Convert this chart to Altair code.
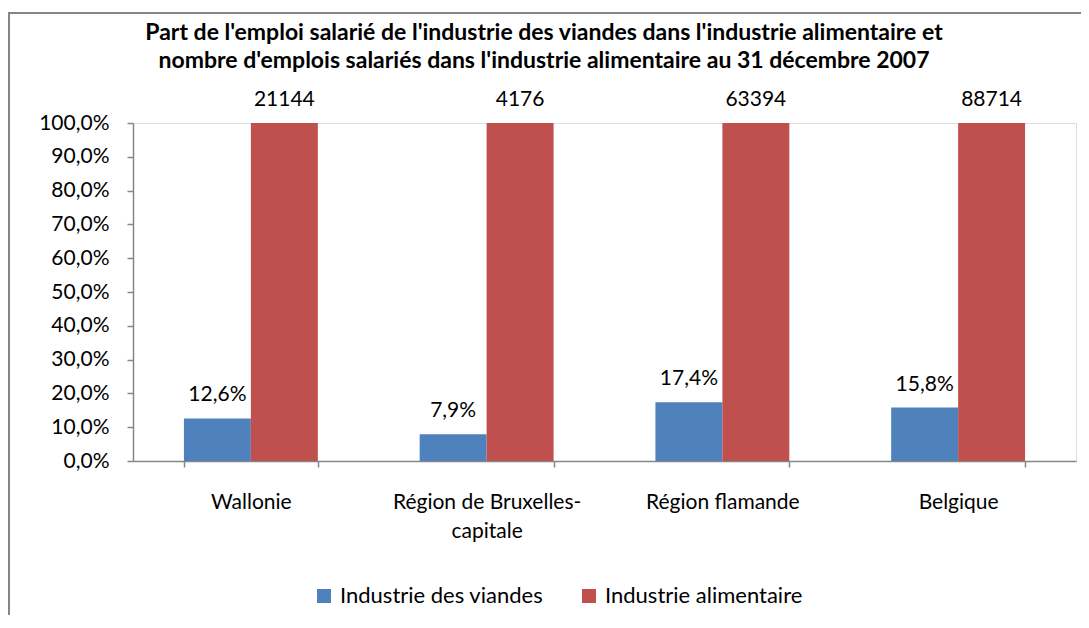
import altair as alt
import pandas as pd

categories = ["Wallonie", "Région de Bruxelles-capitale", "Région flamande", "Belgique"]
series = ["Industrie des viandes", "Industrie alimentaire"]
colors = ["#4F81BD", "#C0504D"]
viandes_share = [12.6, 7.9, 17.4, 15.8]
alimentaire_share = [100.0, 100.0, 100.0, 100.0]
alimentaire_jobs = [21144, 4176, 63394, 88714]
y_ticks = [0, 10, 20, 30, 40, 50, 60, 70, 80, 90, 100]
title_lines = [
    "Part de l'emploi salarié de l'industrie des viandes dans l'industrie alimentaire et",
    "nombre d'emplois salariés dans l'industrie alimentaire au 31 décembre 2007",
]

rows = []
for i, c in enumerate(categories):
    rows.append({"cat": c, "serie": series[0], "value": viandes_share[i],
                 "label": f"{viandes_share[i]:.1f}%".replace(".", ",")})
    rows.append({"cat": c, "serie": series[1], "value": alimentaire_share[i],
                 "label": str(alimentaire_jobs[i])})
df = pd.DataFrame(rows)
title_df = pd.DataFrame({"line": title_lines})

FONT = "Lato"
FS = 21
W, H = 943, 338
PL, PT = 125, 115
GRAY = "#868686"

x_enc = alt.X(
    "cat:N", sort=categories,
    scale=alt.Scale(paddingInner=0.432, paddingOuter=0.216),
    axis=alt.Axis(
        title=None, labelAngle=0, tickBand="extent", tickSize=6,
        labelPadding=41, labelFontSize=FS, labelColor="#000000",
        labelFont=FONT, labelLineHeight=29, labelBaseline="alphabetic", labelLimit=0,
        domainColor=GRAY, tickColor=GRAY, domainWidth=1.5, tickWidth=1.5,
        labelExpr="datum.label == 'Région de Bruxelles-capitale' ? ['Région de Bruxelles-', 'capitale'] : datum.label",
    ),
)
xoff = alt.XOffset("serie:N", sort=series, scale=alt.Scale(paddingInner=0, paddingOuter=0))
y_enc = alt.Y(
    "value:Q", scale=alt.Scale(domain=[0, 100], nice=False),
    axis=alt.Axis(
        title=None, values=y_ticks, grid=False, tickSize=6, labelPadding=18,
        labelFontSize=FS, labelColor="#000000", labelFont=FONT, labelOverlap=False,
        domainColor=GRAY, tickColor=GRAY, domainWidth=1.5, tickWidth=1.5,
        labelExpr="replace(format(datum.value, '.1f'), '.', ',') + '%'",
    ),
)

bars = alt.Chart(df).mark_bar().encode(
    x=x_enc, xOffset=xoff, y=y_enc,
    color=alt.Color(
        "serie:N", sort=series,
        scale=alt.Scale(domain=series, range=colors),
        legend=alt.Legend(
            title=None, orient="none", direction="horizontal",
            legendX=180, legendY=462, symbolType="square", symbolSize=196,
            symbolStrokeWidth=0, labelFontSize=22, labelFont=FONT, labelColor="#000000",
            labelOffset=5, columnPadding=34, padding=0, labelLimit=400,
        ),
    ),
)

labels = alt.Chart(df).mark_text(
    baseline="alphabetic", dy=-17, fontSize=FS, font=FONT, color="#000000"
).encode(x=x_enc, xOffset=xoff, y=y_enc, text="label:N")

title1 = alt.Chart(title_df.iloc[[0]]).mark_text(
    fontSize=23, font=FONT, fontWeight="bold", color="#000000", baseline="middle", align="center"
).encode(x=alt.value(411), y=alt.value(-90), text="line:N")
title2 = alt.Chart(title_df.iloc[[1]]).mark_text(
    fontSize=23, font=FONT, fontWeight="bold", color="#000000", baseline="middle", align="center"
).encode(x=alt.value(411), y=alt.value(-62), text="line:N")

frame = alt.Chart(df).mark_rect(
    fill=None, stroke=GRAY, strokeWidth=2, clip=False
).encode(
    x=alt.value(-PL + 1), x2=alt.value(W + 60),
    y=alt.value(-PT + 5), y2=alt.value(H + 400),
)

chart = alt.layer(frame, bars, labels, title1, title2).properties(
    width=W, height=H,
    autosize=alt.AutoSizeParams(type="none"),
    padding={"left": PL, "top": PT, "right": 5, "bottom": 154},
).configure_view(stroke=None).configure(background="white")

chart.save("out.html", embed_options={"renderer": "svg", "actions": False})
